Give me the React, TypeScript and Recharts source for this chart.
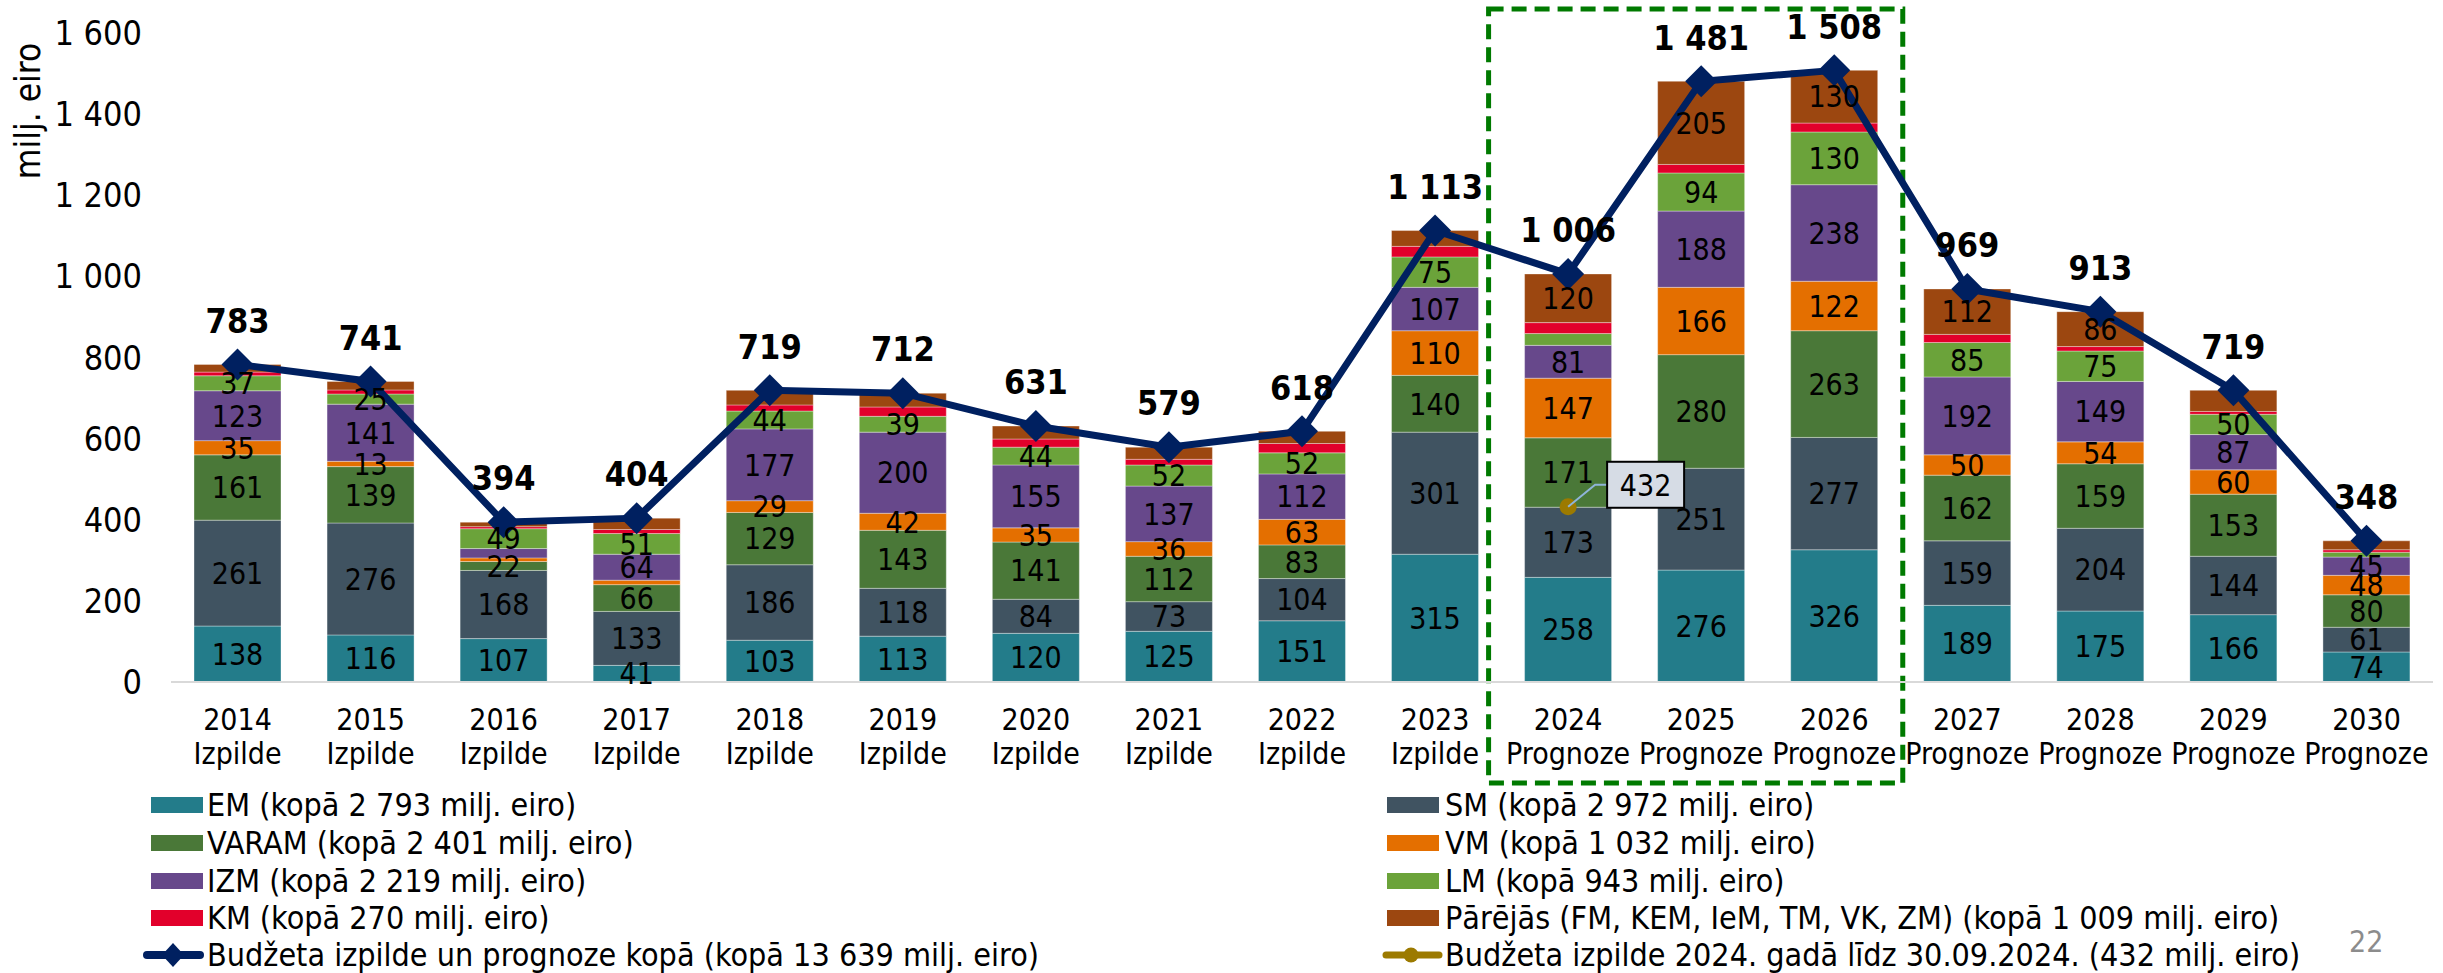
import React from "react";
import {
  Bar,
  ComposedChart,
  LabelList,
  Line,
  ReferenceArea,
  XAxis,
  YAxis,
} from "recharts";

const years = ["2014", "2015", "2016", "2017", "2018", "2019", "2020", "2021", "2022", "2023", "2024", "2025", "2026", "2027", "2028", "2029", "2030"];
const stages = ["Izpilde", "Izpilde", "Izpilde", "Izpilde", "Izpilde", "Izpilde", "Izpilde", "Izpilde", "Izpilde", "Izpilde", "Prognoze", "Prognoze", "Prognoze", "Prognoze", "Prognoze", "Prognoze", "Prognoze"];

const em = [138, 116, 107, 41, 103, 113, 120, 125, 151, 315, 258, 276, 326, 189, 175, 166, 74];
const sm = [261, 276, 168, 133, 186, 118, 84, 73, 104, 301, 173, 251, 277, 159, 204, 144, 61];
const varam = [161, 139, 22, 66, 129, 143, 141, 112, 83, 140, 171, 280, 263, 162, 159, 153, 80];
const vm = [35, 13, 9, 11, 29, 42, 35, 36, 63, 110, 147, 166, 122, 50, 54, 60, 48];
const izm = [123, 141, 23, 64, 177, 200, 155, 137, 112, 107, 81, 188, 238, 192, 149, 87, 45];
const lm = [37, 25, 49, 51, 44, 39, 44, 52, 52, 75, 29, 94, 130, 85, 75, 50, 12];
const km = [9, 10, 5, 10, 15, 23, 20, 14, 23, 26, 27, 21, 22, 20, 11, 7, 6];
const other = [19, 21, 11, 28, 36, 34, 32, 30, 30, 39, 120, 205, 130, 112, 86, 52, 22];
const total = [783, 741, 394, 404, 719, 712, 631, 579, 618, 1113, 1006, 1481, 1508, 969, 913, 719, 348];
const ytd2024 = [null, null, null, null, null, null, null, null, null, null, 432, null, null, null, null, null, null];

const yTicks = [0, 200, 400, 600, 800, 1000, 1200, 1400, 1600];

const FONT = "'DejaVu Sans Condensed', 'DejaVu Sans', sans-serif";
const NAVY = "#002060";
const GOLD = "#9C7A00";

const series = [
  { key: "em", values: em, color: "#237C8A", name: "EM (kopā 2 793 milj. eiro)", hide: [] as number[] },
  { key: "sm", values: sm, color: "#405361", name: "SM (kopā 2 972 milj. eiro)", hide: [] },
  { key: "varam", values: varam, color: "#4A7838", name: "VARAM (kopā 2 401 milj. eiro)", hide: [] },
  { key: "vm", values: vm, color: "#E46F00", name: "VM (kopā 1 032 milj. eiro)", hide: [2, 3] },
  { key: "izm", values: izm, color: "#67488B", name: "IZM (kopā 2 219 milj. eiro)", hide: [2] },
  { key: "lm", values: lm, color: "#6BA33A", name: "LM (kopā 943 milj. eiro)", hide: [10, 16] },
  { key: "km", values: km, color: "#E2002B", name: "KM (kopā 270 milj. eiro)", hide: years.map((_, i) => i) },
  {
    key: "other",
    values: other,
    color: "#9C4710",
    name: "Pārējās (FM, KEM, IeM, TM, VK, ZM) (kopā 1 009 milj. eiro)",
    hide: [0, 1, 2, 3, 4, 5, 6, 7, 8, 9, 15, 16],
  },
];

const rows = years.map((year, i) => {
  const row: Record<string, any> = { year, total: total[i], ytd: ytd2024[i] };
  series.forEach((s) => (row[s.key] = s.values[i]));
  return row;
});

const fmt = (n: number) => String(n).replace(/\B(?=(\d{3})+(?!\d))/g, " ");

const segLabel = (hide: number[]) => (p: any) => {
  if (hide.includes(p.index)) return null;
  const x = p.x + p.width / 2;
  const y = p.y + p.height / 2;
  return (
    <text x={x} y={y} dy="0.36em" textAnchor="middle" fontSize={30} fontFamily={FONT} fill="#000">
      {p.value}
    </text>
  );
};

const totalLabel = (p: any) => (
  <text x={p.x} y={p.y - 44} dy="0.36em" textAnchor="middle" fontSize={34} fontWeight="bold" fontFamily={FONT} fill="#000">
    {fmt(p.value)}
  </text>
);

// callout box for the 2024 partial-year value
const calloutLabel = (p: any) => {
  if (p.value == null) return null;
  const { x, y } = p;
  return (
    <g>
      <polyline points={`${x},${y} ${x + 27},${y - 22} ${x + 39},${y - 22}`} fill="none" stroke="#8FB4D9" strokeWidth={2} />
      <rect x={x + 39} y={y - 45} width={77} height={46} fill="#D6DCE5" stroke="#000" strokeWidth={2} />
      <text x={x + 77.5} y={y - 22} dy="0.36em" textAnchor="middle" fontSize={30} fontFamily={FONT} fill="#000">
        {p.value}
      </text>
    </g>
  );
};

const Diamond = (p: any) => {
  const { cx, cy } = p;
  if (cx == null || cy == null) return null;
  return <polygon points={`${cx},${cy - 16} ${cx + 16},${cy} ${cx},${cy + 16} ${cx - 16},${cy}`} fill={NAVY} />;
};

const YearTick = (p: any) => {
  const { x, y, payload } = p;
  const i = years.indexOf(payload.value);
  return (
    <g>
      <text x={x} y={y + 48} textAnchor="middle" fontSize={30} fontFamily={FONT} fill="#000">
        {payload.value}
      </text>
      <text x={x} y={y + 82} textAnchor="middle" fontSize={30} fontFamily={FONT} fill="#000">
        {stages[i]}
      </text>
    </g>
  );
};

const ForecastBox = (p: any) => (
  <rect
    x={p.x - 13}
    y={p.y - 24}
    width={p.width + 15}
    height={p.height + 125}
    fill="none"
    stroke="#007A00"
    strokeWidth={5}
    strokeDasharray="15 8"
  />
);

const legendLeft = [series[0], series[2], series[4], series[6]];
const legendRight = [series[1], series[3], series[5], series[7]];
const rowY = [805, 843, 881, 918, 955];

const textStyle: React.CSSProperties = {
  position: "absolute",
  fontFamily: FONT,
  fontSize: 32,
  lineHeight: "30px",
  color: "#000",
  whiteSpace: "nowrap",
};

function Swatch({ x, y, color }: { x: number; y: number; color: string }) {
  return <div style={{ position: "absolute", left: x, top: y - 8, width: 52, height: 16, background: color }} />;
}

function LineMark({ x, y, color, diamond }: { x: number; y: number; color: string; diamond: boolean }) {
  return (
    <svg style={{ position: "absolute", left: x, top: y - 20 }} width={64} height={40}>
      <line x1={5} y1={20} x2={58} y2={20} stroke={color} strokeWidth={diamond ? 8 : 7} strokeLinecap="round" />
      {diamond ? (
        <polygon points="31,8 42,20 31,32 20,20" fill={color} />
      ) : (
        <circle cx={30} cy={20} r={7.5} fill={color} />
      )}
    </svg>
  );
}

export default function App() {
  return (
    <div style={{ position: "absolute", left: 0, top: 0, width: 2443, height: 973, overflow: "hidden", background: "#fff" }}>
      <ComposedChart width={2443} height={973} data={rows} margin={{ top: 33, right: 10, bottom: 191, left: 0 }}>
        <XAxis
          dataKey="year"
          interval={0}
          height={100}
          tickLine={false}
          tickSize={0}
          tickMargin={0}
          axisLine={{ stroke: "#D9D9D9", strokeWidth: 2 }}
          tick={<YearTick />}
        />
        <YAxis
          width={171}
          domain={[0, 1600]}
          ticks={yTicks}
          tickFormatter={fmt}
          axisLine={false}
          tickLine={false}
          tickSize={6}
          tickMargin={23}
          tick={{ fontSize: 34, fontFamily: FONT, fill: "#000" }}
        />
        {series.map((s) => (
          <Bar key={s.key} dataKey={s.key} stackId="a" fill={s.color} barSize={87} stroke="#ffffff" strokeOpacity={0.35} strokeWidth={1} isAnimationActive={false}>
            <LabelList dataKey={s.key} content={segLabel(s.hide)} />
          </Bar>
        ))}
        <Line dataKey="total" stroke={NAVY} strokeWidth={7} dot={<Diamond />} activeDot={false} isAnimationActive={false}>
          <LabelList dataKey="total" content={totalLabel} />
        </Line>
        <Line dataKey="ytd" stroke={GOLD} strokeWidth={3} dot={{ r: 7, fill: GOLD, stroke: GOLD }} activeDot={false} isAnimationActive={false}>
          <LabelList dataKey="ytd" content={calloutLabel} />
        </Line>
        <ReferenceArea x1="2024" x2="2026" ifOverflow="visible" shape={<ForecastBox />} />
      </ComposedChart>

      <div style={{ ...textStyle, left: 28, top: 111, transform: "translate(-50%, -50%) rotate(-90deg)", fontSize: 35, lineHeight: "36px" }}>
        milj. eiro
      </div>

      {legendLeft.map((s, i) => (
        <React.Fragment key={s.key}>
          <Swatch x={151} y={rowY[i]} color={s.color} />
          <div style={{ ...textStyle, left: 207, top: rowY[i] - 15 }}>{s.name}</div>
        </React.Fragment>
      ))}
      <LineMark x={142} y={rowY[4]} color={NAVY} diamond />
      <div style={{ ...textStyle, left: 207, top: rowY[4] - 15 }}>Budžeta izpilde un prognoze kopā (kopā 13 639 milj. eiro)</div>

      {legendRight.map((s, i) => (
        <React.Fragment key={s.key}>
          <Swatch x={1387} y={rowY[i]} color={s.color} />
          <div style={{ ...textStyle, left: 1445, top: rowY[i] - 15 }}>{s.name}</div>
        </React.Fragment>
      ))}
      <LineMark x={1381} y={rowY[4]} color={GOLD} diamond={false} />
      <div style={{ ...textStyle, left: 1445, top: rowY[4] - 15 }}>Budžeta izpilde 2024. gadā līdz 30.09.2024. (432 milj. eiro)</div>

      <div style={{ ...textStyle, left: 2349, top: 927, color: "#8C8C8C", fontSize: 30 }}>22</div>
    </div>
  );
}
